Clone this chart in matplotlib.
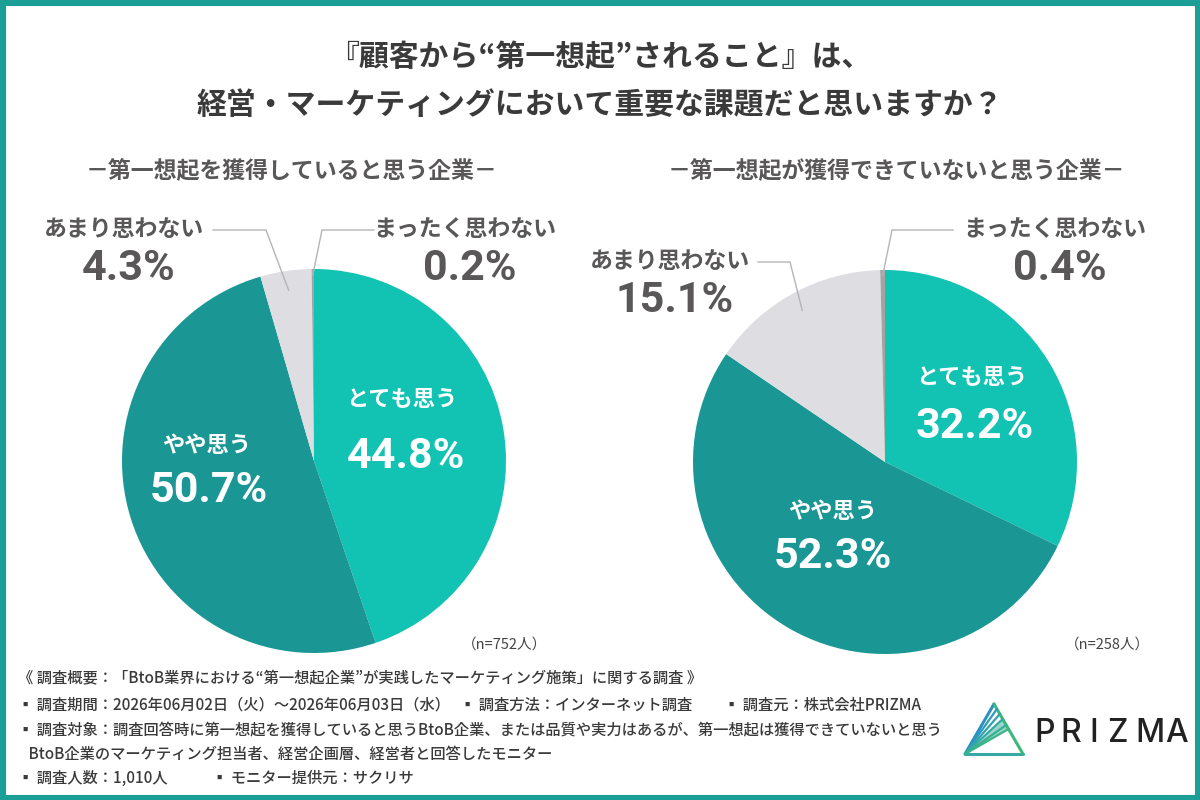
import matplotlib
matplotlib.use("Agg")
import matplotlib.pyplot as plt
from matplotlib.patches import Rectangle, Polygon
import numpy as np

plt.rcParams["font.family"] = ["Noto Sans CJK JP", "DejaVu Sans"]

CATEGORIES = ["とても思う", "やや思う", "あまり思わない", "まったく思わない"]
LEFT_VALUES = [44.8, 50.7, 4.3, 0.2]
RIGHT_VALUES = [32.2, 52.3, 15.1, 0.4]
LEFT_TITLE = "－第一想起を獲得していると思う企業－"
RIGHT_TITLE = "－第一想起が獲得できていないと思う企業－"
LEFT_N = "（n=752人）"
RIGHT_N = "（n=258人）"
TITLE_LINES = ["『顧客から“第一想起”されること』は、", "経営・マーケティングにおいて重要な課題だと思いますか？"]
FOOTER_LINES = [
    "《 調査概要：「BtoB業界における“第一想起企業”が実践したマーケティング施策」に関する調査 》",
    "▪ 調査期間：2026年06月02日（火）～2026年06月03日（水）",
    "▪ 調査対象：調査回答時に第一想起を獲得していると思うBtoB企業、または品質や実力はあるが、第一想起は獲得できていないと思う",
    "   BtoB企業のマーケティング担当者、経営企画層、経営者と回答したモニター",
    "▪ 調査人数：1,010人",
]
FOOTER_EXTRA = [("▪ 調査方法：インターネット調査", 460, 1), ("▪ 調査元：株式会社PRIZMA", 724, 1),
                ("▪ モニター提供元：サクリサ", 212, 4)]

COLORS = ["#12C2B3", "#1A9795", "#DEDDE1", "#A3A3A5"]
GRAY_TEXT = "#595757"
NUM_FONT = ["Roboto", "DejaVu Sans"]

W, H = 1200, 800
fig = plt.figure(figsize=(12, 8), dpi=100)
fig.patch.set_facecolor("white")

RADIUS = 192


def draw_pie(values, cx, cy):
    ax = fig.add_axes([(cx - RADIUS) / W, 1 - (cy + RADIUS) / H, 2 * RADIUS / W, 2 * RADIUS / H])
    ax.pie(values, colors=COLORS, startangle=90, counterclock=False, radius=1.0,
           wedgeprops=dict(linewidth=0))
    ax.set_xlim(-1, 1)
    ax.set_ylim(-1, 1)
    ax.set_aspect("auto")
    ax.axis("off")


LCX, LCY = 314, 461
RCX, RCY = 885, 462
draw_pie(LEFT_VALUES, LCX, LCY)
draw_pie(RIGHT_VALUES, RCX, RCY)

# overlay for text and leader lines, drawn above the pies
ov = fig.add_axes([0, 0, 1, 1], zorder=5)
ov.patch.set_alpha(0)
ov.set_xlim(0, W)
ov.set_ylim(H, 0)
ov.axis("off")


def anchor(values, idx, cx, cy, frac):
    total = sum(values)
    mid = (sum(values[:idx]) + values[idx] / 2) / total * 2 * np.pi
    return cx + RADIUS * frac * np.sin(mid), cy - RADIUS * frac * np.cos(mid)


def outside_label(name, value, tx, ty, line_pts, end_pt):
    ov.text(tx, ty, name, ha="center", va="center", fontsize=16.5, fontweight="bold", color=GRAY_TEXT)
    ov.text(tx + 5, ty + 39, f"{value}%", ha="center", va="center", fontsize=31, fontweight="bold",
            color=GRAY_TEXT, family=NUM_FONT)
    xs = [p[0] for p in line_pts] + [end_pt[0]]
    ys = [p[1] for p in line_pts] + [end_pt[1]]
    ov.plot(xs, ys, color="#B5B5B8", lw=1.0)


def inside_label(name, value, tx, ty, num_x, num_y):
    ov.text(tx, ty, name, ha="center", va="center", fontsize=16, fontweight="bold", color="white")
    ov.text(num_x, num_y, f"{value}%", ha="center", va="center", fontsize=31, fontweight="bold",
            color="white", family=NUM_FONT)


inside_label(CATEGORIES[0], LEFT_VALUES[0], 402, 400, 406, 456)
inside_label(CATEGORIES[1], LEFT_VALUES[1], 207, 446, 209, 490)
outside_label(CATEGORIES[2], LEFT_VALUES[2], 124, 230, [(213, 230), (266, 230)],
              anchor(LEFT_VALUES, 2, LCX, LCY, 0.9))
outside_label(CATEGORIES[3], LEFT_VALUES[3], 465, 230, [(374, 230), (322, 230)],
              anchor(LEFT_VALUES, 3, LCX, LCY, 0.97))

inside_label(CATEGORIES[0], RIGHT_VALUES[0], 972, 377, 975, 427)
inside_label(CATEGORIES[1], RIGHT_VALUES[1], 833, 512, 833, 557)
outside_label(CATEGORIES[2], RIGHT_VALUES[2], 670, 262, [(758, 262), (790, 262)],
              anchor(RIGHT_VALUES, 2, RCX, RCY, 0.9))
outside_label(CATEGORIES[3], RIGHT_VALUES[3], 1055, 230, [(953, 230), (892, 230)],
              anchor(RIGHT_VALUES, 3, RCX, RCY, 0.97))

# titles
ov.text(600, 57, TITLE_LINES[0], ha="center", va="center", fontsize=21.5, fontweight="bold", color="#3A3A3A")
ov.text(600, 105, TITLE_LINES[1], ha="center", va="center", fontsize=21.5, fontweight="bold", color="#3A3A3A")
ov.text(292, 172, LEFT_TITLE, ha="center", va="center", fontsize=16.5, fontweight="bold", color=GRAY_TEXT)
ov.text(896, 172, RIGHT_TITLE, ha="center", va="center", fontsize=16.5, fontweight="bold", color=GRAY_TEXT)
ov.text(505, 645, LEFT_N, ha="center", va="center", fontsize=10.5, color="#444444")
ov.text(1107, 645, RIGHT_N, ha="center", va="center", fontsize=10.5, color="#444444")

# footer
footer_y = [679, 705, 731, 754, 778]
for line, y in zip(FOOTER_LINES, footer_y):
    ov.text(18, y, line, ha="left", va="center", fontsize=11, fontweight="medium", color="#3A3A3A")
for txt, x, row in FOOTER_EXTRA:
    ov.text(x, footer_y[row], txt, ha="left", va="center", fontsize=11, fontweight="medium", color="#3A3A3A")

# logo
top, bl, br = (994, 704), (965, 754), (1023, 754)
ov.plot([bl[0], top[0]], [bl[1], top[1]], color="#2B8FC3", lw=2.2, solid_capstyle="round")
ov.plot([bl[0], br[0]], [bl[1], br[1]], color="#35A9A6", lw=2.2, solid_capstyle="round")
ov.plot([top[0], br[0]], [top[1], br[1]], color="#3DB87A", lw=2.2, solid_capstyle="round")
for t, c in zip([0.1, 0.2, 0.3, 0.42, 0.5], ["#2E9BB5", "#31A2AE", "#35AAA2", "#38B092", "#3BB487"]):
    px = top[0] + (br[0] - top[0]) * t
    py = top[1] + (br[1] - top[1]) * t
    ov.plot([bl[0], px], [bl[1], py], color=c, lw=1.6, solid_capstyle="round")
ov.add_patch(Polygon([bl, (top[0] + (br[0] - top[0]) * 0.3, top[1] + (br[1] - top[1]) * 0.3),
                      (top[0] + (br[0] - top[0]) * 0.5, top[1] + (br[1] - top[1]) * 0.5)],
                     closed=True, facecolor="#37AE98", edgecolor="none", alpha=0.5))
for ch, x in zip("PRIZMA", [1045, 1071, 1094, 1117, 1150, 1177]):
    ov.text(x, 733, ch, ha="center", va="center", fontsize=23, color="#222222",
            family=["Inter", "DejaVu Sans"], fontweight="medium")

# border
fig.patches.append(Rectangle((0, 0), 1, 1, transform=fig.transFigure, fill=False,
                             edgecolor="#1B9E96", linewidth=8, zorder=10))

fig.savefig("out.png", dpi=100)
